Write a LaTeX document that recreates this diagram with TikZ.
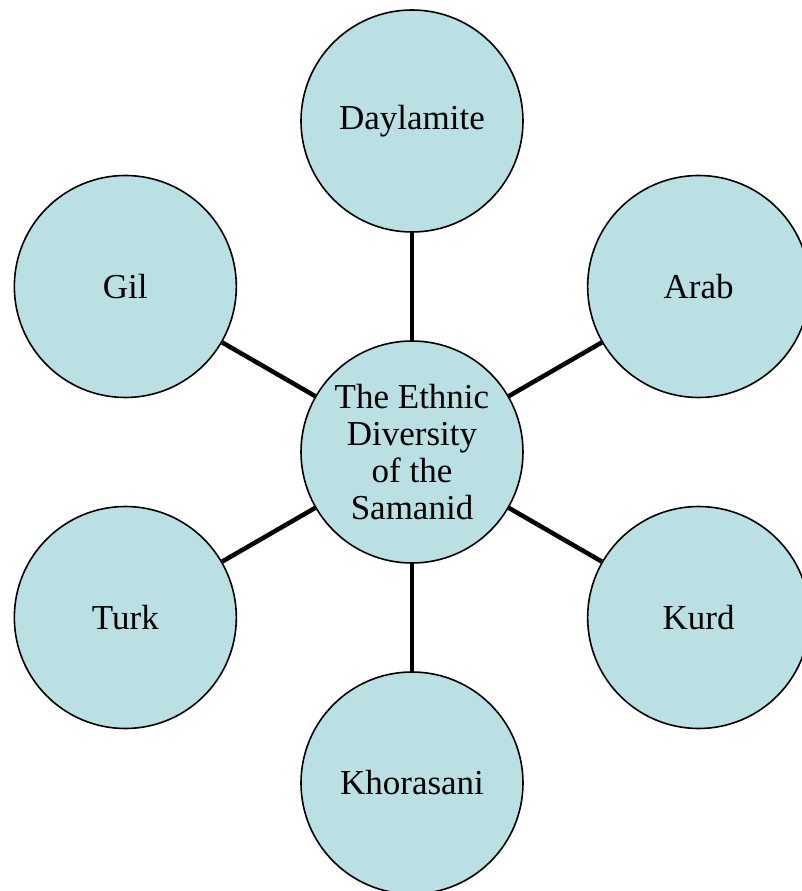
\documentclass[tikz,border=0pt]{standalone}
\usepackage{fontspec}
\setmainfont{Liberation Serif}
\definecolor{bubblefill}{RGB}{186,224,228}
\begin{document}
\begin{tikzpicture}[
    bubble/.style={circle,draw=black,line width=1.6pt,fill=bubblefill,
      minimum size=222pt,inner sep=0pt,align=center,
      font=\fontsize{35}{37}\selectfont},
    spoke/.style={line width=4.5pt}]
        \useasboundingbox (-412pt,-439pt) rectangle (390pt,452pt);

        \node[bubble] (samanid) at (0,0) {The Ethnic\\Diversity\\of the\\Samanid};
        \node[bubble] (daylamite) at (90:331pt) {Daylamite};
        \node[bubble] (arab) at (30:331pt) {Arab};
        \node[bubble] (gil) at (150:331pt) {Gil};
        \node[bubble] (turk) at (210:331pt) {Turk};
        \node[bubble] (kurd) at (330:331pt) {Kurd};
        \node[bubble] (khorasani) at (270:331pt) {Khorasani};

        \draw[spoke] (samanid) -- (daylamite);
        \draw[spoke] (samanid) -- (arab);
        \draw[spoke] (samanid) -- (gil);
        \draw[spoke] (samanid) -- (turk);
        \draw[spoke] (samanid) -- (kurd);
        \draw[spoke] (samanid) -- (khorasani);
      \end{tikzpicture}
\end{document}
